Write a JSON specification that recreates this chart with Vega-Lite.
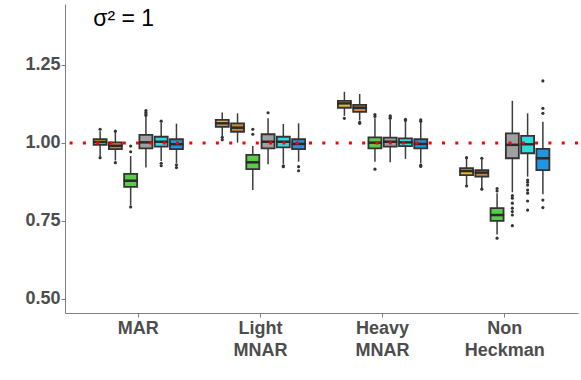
{
  "$schema": "https://vega.github.io/schema/vega-lite/v6.json",
  "width": 513,
  "height": 309,
  "autosize": {"type": "none"},
  "padding": {"left": 65, "top": 4, "right": 3, "bottom": 67},
  "background": "white",
  "config": {
    "view": {"stroke": null},
    "font": "Liberation Sans"
  },
  "datasets": {
    "boxes": [
      {"group": "MAR", "method": "M1", "lo": 0.957, "q1": 0.994, "med": 1.003, "q3": 1.012, "hi": 1.038},
      {"group": "MAR", "method": "M2", "lo": 0.944, "q1": 0.980, "med": 0.991, "q3": 1.002, "hi": 1.035},
      {"group": "MAR", "method": "M3", "lo": 0.801, "q1": 0.859, "med": 0.879, "q3": 0.901, "hi": 0.958},
      {"group": "MAR", "method": "M4", "lo": 0.921, "q1": 0.983, "med": 1.002, "q3": 1.026, "hi": 1.083},
      {"group": "MAR", "method": "M5", "lo": 0.942, "q1": 0.988, "med": 1.004, "q3": 1.020, "hi": 1.065},
      {"group": "MAR", "method": "M6", "lo": 0.936, "q1": 0.980, "med": 0.996, "q3": 1.012, "hi": 1.062},
      {"group": "Light MNAR", "method": "M1", "lo": 1.022, "q1": 1.052, "med": 1.063, "q3": 1.074, "hi": 1.098},
      {"group": "Light MNAR", "method": "M2", "lo": 1.001, "q1": 1.036, "med": 1.049, "q3": 1.063, "hi": 1.095},
      {"group": "Light MNAR", "method": "M3", "lo": 0.849, "q1": 0.916, "med": 0.938, "q3": 0.962, "hi": 0.990},
      {"group": "Light MNAR", "method": "M4", "lo": 0.932, "q1": 0.983, "med": 1.004, "q3": 1.028, "hi": 1.079},
      {"group": "Light MNAR", "method": "M5", "lo": 0.933, "q1": 0.986, "med": 1.004, "q3": 1.020, "hi": 1.061},
      {"group": "Light MNAR", "method": "M6", "lo": 0.940, "q1": 0.980, "med": 0.997, "q3": 1.012, "hi": 1.063},
      {"group": "Heavy MNAR", "method": "M1", "lo": 1.087, "q1": 1.113, "med": 1.127, "q3": 1.135, "hi": 1.164},
      {"group": "Heavy MNAR", "method": "M2", "lo": 1.072, "q1": 1.100, "med": 1.113, "q3": 1.122, "hi": 1.157},
      {"group": "Heavy MNAR", "method": "M3", "lo": 0.940, "q1": 0.983, "med": 1.001, "q3": 1.018, "hi": 1.079},
      {"group": "Heavy MNAR", "method": "M4", "lo": 0.938, "q1": 0.988, "med": 1.004, "q3": 1.017, "hi": 1.075},
      {"group": "Heavy MNAR", "method": "M5", "lo": 0.949, "q1": 0.990, "med": 1.002, "q3": 1.015, "hi": 1.068},
      {"group": "Heavy MNAR", "method": "M6", "lo": 0.935, "q1": 0.983, "med": 0.997, "q3": 1.012, "hi": 1.067},
      {"group": "Non Heckman", "method": "M1", "lo": 0.865, "q1": 0.897, "med": 0.910, "q3": 0.919, "hi": 0.951},
      {"group": "Non Heckman", "method": "M2", "lo": 0.855, "q1": 0.892, "med": 0.905, "q3": 0.913, "hi": 0.948},
      {"group": "Non Heckman", "method": "M3", "lo": 0.707, "q1": 0.750, "med": 0.769, "q3": 0.791, "hi": 0.839},
      {"group": "Non Heckman", "method": "M4", "lo": 0.842, "q1": 0.951, "med": 0.994, "q3": 1.031, "hi": 1.135},
      {"group": "Non Heckman", "method": "M5", "lo": 0.892, "q1": 0.967, "med": 0.996, "q3": 1.023, "hi": 1.095},
      {"group": "Non Heckman", "method": "M6", "lo": 0.836, "q1": 0.913, "med": 0.951, "q3": 0.981, "hi": 1.068}
    ],
    "outliers": [
      {"group": "MAR", "method": "M1", "value": 1.044},
      {"group": "MAR", "method": "M1", "value": 0.953},
      {"group": "MAR", "method": "M2", "value": 1.038},
      {"group": "MAR", "method": "M2", "value": 0.937},
      {"group": "MAR", "method": "M3", "value": 0.990},
      {"group": "MAR", "method": "M3", "value": 0.972},
      {"group": "MAR", "method": "M3", "value": 0.795},
      {"group": "MAR", "method": "M4", "value": 1.104},
      {"group": "MAR", "method": "M4", "value": 1.098},
      {"group": "MAR", "method": "M4", "value": 1.093},
      {"group": "MAR", "method": "M4", "value": 1.088},
      {"group": "MAR", "method": "M5", "value": 1.070},
      {"group": "MAR", "method": "M5", "value": 0.935},
      {"group": "MAR", "method": "M5", "value": 0.927},
      {"group": "MAR", "method": "M6", "value": 0.930},
      {"group": "MAR", "method": "M6", "value": 0.921},
      {"group": "Light MNAR", "method": "M1", "value": 1.018},
      {"group": "Light MNAR", "method": "M1", "value": 1.010},
      {"group": "Light MNAR", "method": "M3", "value": 1.044},
      {"group": "Light MNAR", "method": "M3", "value": 1.028},
      {"group": "Light MNAR", "method": "M4", "value": 1.097},
      {"group": "Light MNAR", "method": "M5", "value": 0.927},
      {"group": "Light MNAR", "method": "M5", "value": 0.924},
      {"group": "Light MNAR", "method": "M6", "value": 0.924},
      {"group": "Light MNAR", "method": "M6", "value": 0.911},
      {"group": "Heavy MNAR", "method": "M1", "value": 1.079},
      {"group": "Heavy MNAR", "method": "M2", "value": 1.066},
      {"group": "Heavy MNAR", "method": "M2", "value": 1.063},
      {"group": "Heavy MNAR", "method": "M3", "value": 1.091},
      {"group": "Heavy MNAR", "method": "M3", "value": 1.085},
      {"group": "Heavy MNAR", "method": "M3", "value": 0.916},
      {"group": "Heavy MNAR", "method": "M4", "value": 1.079},
      {"group": "Heavy MNAR", "method": "M4", "value": 1.083},
      {"group": "Heavy MNAR", "method": "M4", "value": 1.087},
      {"group": "Heavy MNAR", "method": "M5", "value": 1.072},
      {"group": "Heavy MNAR", "method": "M5", "value": 1.076},
      {"group": "Heavy MNAR", "method": "M6", "value": 1.070},
      {"group": "Heavy MNAR", "method": "M6", "value": 1.074},
      {"group": "Heavy MNAR", "method": "M6", "value": 0.929},
      {"group": "Heavy MNAR", "method": "M6", "value": 0.925},
      {"group": "Non Heckman", "method": "M1", "value": 0.953},
      {"group": "Non Heckman", "method": "M1", "value": 0.862},
      {"group": "Non Heckman", "method": "M2", "value": 0.951},
      {"group": "Non Heckman", "method": "M2", "value": 0.852},
      {"group": "Non Heckman", "method": "M3", "value": 0.854},
      {"group": "Non Heckman", "method": "M3", "value": 0.846},
      {"group": "Non Heckman", "method": "M3", "value": 0.695},
      {"group": "Non Heckman", "method": "M4", "value": 0.831},
      {"group": "Non Heckman", "method": "M4", "value": 0.823},
      {"group": "Non Heckman", "method": "M4", "value": 0.807},
      {"group": "Non Heckman", "method": "M4", "value": 0.791},
      {"group": "Non Heckman", "method": "M4", "value": 0.780},
      {"group": "Non Heckman", "method": "M4", "value": 0.769},
      {"group": "Non Heckman", "method": "M4", "value": 0.735},
      {"group": "Non Heckman", "method": "M5", "value": 0.881},
      {"group": "Non Heckman", "method": "M5", "value": 0.874},
      {"group": "Non Heckman", "method": "M5", "value": 0.865},
      {"group": "Non Heckman", "method": "M5", "value": 0.849},
      {"group": "Non Heckman", "method": "M5", "value": 0.839},
      {"group": "Non Heckman", "method": "M5", "value": 0.814},
      {"group": "Non Heckman", "method": "M5", "value": 0.785},
      {"group": "Non Heckman", "method": "M6", "value": 1.199},
      {"group": "Non Heckman", "method": "M6", "value": 1.111},
      {"group": "Non Heckman", "method": "M6", "value": 1.095},
      {"group": "Non Heckman", "method": "M6", "value": 0.817},
      {"group": "Non Heckman", "method": "M6", "value": 0.793}
    ],
    "reference": [{"level": 1, "label": "σ² = 1", "labelY": 1.375, "labelX": "MAR"}]
  },
  "layer": [
    {
      "data": {"name": "boxes"},
      "mark": {"type": "rule", "color": "#3C3C3C", "strokeWidth": 1.5},
      "encoding": {
        "x": {
          "field": "group",
          "type": "nominal",
          "sort": ["MAR", "Light MNAR", "Heavy MNAR", "Non Heckman"],
          "scale": {"type": "band", "domain": ["MAR", "Light MNAR", "Heavy MNAR", "Non Heckman"], "paddingInner": 0, "paddingOuter": 0.1},
          "axis": {
            "title": null,
            "labelAngle": 0,
            "labelExpr": "split(datum.label, ' ')",
            "labelFont": "Liberation Sans",
            "labelFontSize": 18,
            "labelFontWeight": "bold",
            "labelColor": "#4D4D4D",
            "labelLineHeight": 22,
            "labelPadding": 2,
            "domainColor": "#7F7F7F",
            "domainWidth": 1,
            "tickColor": "#7F7F7F",
            "tickSize": 4,
            "grid": false
          }
        },
        "xOffset": {
          "field": "method",
          "type": "nominal",
          "scale": {"domain": ["M1", "M2", "M3", "M4", "M5", "M6"], "paddingInner": 0, "paddingOuter": 1}
        },
        "y": {
          "field": "lo",
          "type": "quantitative",
          "scale": {"domain": [0.455, 1.4455], "nice": false, "zero": false},
          "axis": {
            "title": null,
            "values": [0.5, 0.75, 1.0, 1.25],
            "format": ".2f",
            "labelFont": "Liberation Sans",
            "labelFontSize": 18,
            "labelFontWeight": "bold",
            "labelColor": "#4D4D4D",
            "labelPadding": 1,
            "domainColor": "#7F7F7F",
            "domainWidth": 1,
            "tickColor": "#7F7F7F",
            "tickSize": 4,
            "grid": false
          }
        },
        "y2": {"field": "hi"}
      }
    },
    {
      "data": {"name": "outliers"},
      "mark": {"type": "circle", "color": "#333333", "size": 10, "opacity": 1},
      "encoding": {
        "x": {"field": "group", "type": "nominal"},
        "xOffset": {"field": "method", "type": "nominal"},
        "y": {"field": "value", "type": "quantitative"}
      }
    },
    {
      "data": {"name": "boxes"},
      "mark": {"type": "bar", "size": 13, "stroke": "#333333", "strokeWidth": 1.8},
      "encoding": {
        "x": {"field": "group", "type": "nominal"},
        "xOffset": {"field": "method", "type": "nominal"},
        "y": {"field": "q1", "type": "quantitative"},
        "y2": {"field": "q3"},
        "fill": {
          "field": "method",
          "type": "nominal",
          "scale": {"domain": ["M1", "M2", "M3", "M4", "M5", "M6"], "range": ["#E5B82A", "#C5854B", "#5BCB4B", "#A0A0A0", "#29DDE0", "#2196E0"]},
          "legend": null
        }
      }
    },
    {
      "data": {"name": "boxes"},
      "mark": {"type": "tick", "color": "#2A2A2A", "thickness": 2.5, "size": 14, "opacity": 1},
      "encoding": {
        "x": {"field": "group", "type": "nominal"},
        "xOffset": {"field": "method", "type": "nominal"},
        "y": {"field": "med", "type": "quantitative"}
      }
    },
    {
      "data": {"name": "reference"},
      "mark": {"type": "rule", "color": "#FF0000", "strokeWidth": 3, "strokeDash": [3, 10.3]},
      "encoding": {
        "y": {"field": "level", "type": "quantitative"}
      }
    },
    {
      "data": {"name": "reference"},
      "mark": {"type": "text", "font": "Liberation Sans", "fontSize": 23, "color": "black", "align": "left", "baseline": "alphabetic", "dx": -45},
      "encoding": {
        "x": {"field": "labelX", "type": "nominal"},
        "y": {"field": "labelY", "type": "quantitative"},
        "text": {"field": "label"}
      }
    }
  ]
}
